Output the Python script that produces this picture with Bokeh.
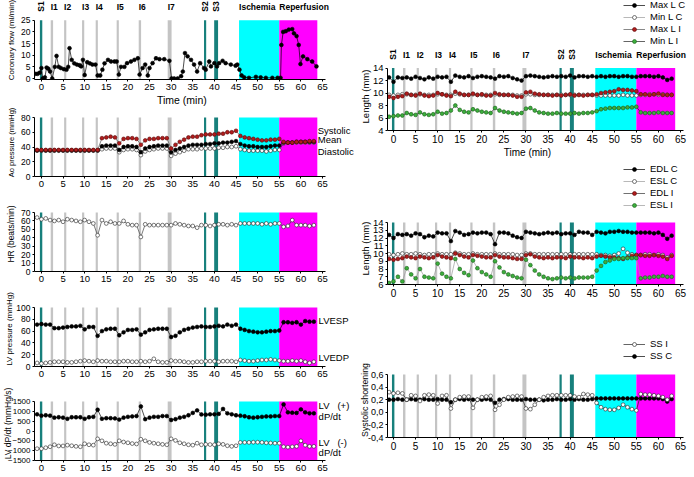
from math import pi
from bokeh.plotting import figure
from bokeh.layouts import row, column
from bokeh.models import (BoxAnnotation, Label, Legend, LegendItem, Range1d,
                          FixedTicker, CustomJSTickFormatter)
from bokeh.embed import file_html
from bokeh.resources import INLINE

FONT = "Liberation Sans"

# ---------------- protocol events (min) ----------------
stim_names = ["S1", "S2", "S3"]
stim_left = [-0.35, 37.6, 39.95]
stim_right = [0.2, 38.1, 40.85]
isch_names = ["I1", "I2", "I3", "I4", "I5", "I6", "I7"]
isch_left = [2.15, 5.25, 9.4, 12.55, 17.4, 22.5, 29.2]
isch_right = [2.7, 5.75, 9.9, 13.05, 17.9, 23.05, 30.1]
ischemia_period = [45.7, 55.0]
reperfusion_period = [55.0, 63.8]
x_ticks = [0, 5, 10, 15, 20, 25, 30, 35, 40, 45, 50, 55, 60, 65]

# ---------------- coronary flow ----------------
flow_t = [-1.4, -0.9, -0.4, 0.0, 0.3, 0.8, 1.2, 1.6, 2.0, 2.5,
          3.1, 3.5, 4.0, 4.5, 5.2, 5.8, 6.2, 6.5, 7.0, 7.6,
          8.2, 8.8, 9.2, 9.6, 10.0, 10.6, 11.2, 11.8, 12.5, 13.0,
          13.6, 14.1, 14.6, 15.4, 16.1, 16.9, 17.4, 17.9, 18.4, 19.2,
          19.8, 20.7, 21.5, 22.3, 22.7, 23.4, 24.0, 24.6, 25.0, 25.7,
          26.5, 27.3, 28.4, 29.6, 30.1, 30.7, 31.5, 32.3, 32.7, 33.2,
          33.8, 34.6, 35.3, 36.0, 36.7, 37.6, 38.0, 38.8, 39.2, 40.0,
          40.6, 41.1, 41.9, 42.6, 43.8, 44.9, 45.3, 45.8, 46.3, 46.9,
          48.0, 49.6, 50.7, 51.9, 53.4, 54.6, 55.3, 55.5, 55.9, 56.5,
          57.2, 58.0, 58.4, 59.0, 59.5, 59.9, 60.5, 61.5, 62.6, 63.6]
flow = [2.0, 2.0, 2.5, 4.5, 0.0, 0.5, 4.7, 4.2, 3.0, 0.0,
        5.0, 9.7, 5.0, 4.5, 4.0, 3.8, 5.0, 13.0, 8.0, 6.5,
        6.0, 5.7, 5.2, 8.0, 1.5, 7.0, 6.5, 6.0, 6.0, 1.3,
        1.3, 3.8, 6.5, 8.0, 7.3, 7.3, 7.3, 1.7, 5.0, 5.0,
        6.6, 7.3, 8.0, 8.7, 1.7, 4.5, 6.0, 1.3, 4.5, 6.6,
        8.7, 8.3, 8.3, 7.6, 0.0, 0.0, 0.0, 1.0, 3.0, 10.9,
        9.5, 8.0, 6.0, 3.0, 6.6, 4.5, 3.8, 7.3, 5.2, 6.6,
        5.2, 6.6, 7.6, 6.6, 6.0, 5.5, 6.0, 3.8, 1.3, 0.5,
        0.3, 0.7, 0.5, 0.3, 0.3, 0.3, 0.3, 14.4, 20.0, 20.3,
        21.0, 21.2, 19.4, 18.2, 14.4, 6.2, 9.5, 8.3, 7.3, 5.2]

# ---------------- one-minute series, t = -1 .. 63 ----------------
t = list(range(-1, 64))

ao_sys = [36, 36, 36, 36, 36, 36, 36, 36, 36, 36,
          36, 36, 36, 36, 36, 52, 53, 54, 53, 45,
          51, 52, 52, 51, 43, 49, 51, 51, 52, 52,
          52, 38, 43, 47, 50, 53, 54, 54, 56, 57,
          57, 57, 58, 58, 60, 60, 62, 55, 53, 52,
          51, 50, 49, 49, 50, 50, 51, 47, 46, 46,
          47, 47, 47, 48, 48]
ao_mean = [35.5, 35.5, 35.5, 35.5, 35.5, 35.5, 35.5, 35.5, 35.5, 35.5,
           35.5, 35.5, 35.5, 35.5, 35.5, 41, 42, 42, 42, 36,
           40, 41, 41, 40, 33, 38, 40, 41, 42, 42,
           42, 33, 36, 38, 40, 42, 43, 43, 43, 44,
           44, 45, 45, 46, 46, 47, 48, 44, 42, 41,
           41, 40, 40, 40, 41, 42, 42, 46, 46, 46,
           47, 47, 47, 47, 47]
ao_dia = [35, 35, 35, 35, 35, 35, 35, 35, 35, 35,
          35, 35, 35, 35, 35, 37, 38, 38, 38, 33,
          36, 37, 37, 36, 29, 34, 36, 37, 38, 38,
          38, 28, 31, 33, 35, 37, 37, 37, 38, 38,
          38, 38, 39, 39, 40, 40, 41, 37, 36, 35,
          35, 35, 35, 34, 35, 36, 36, 45, 46, 46,
          46, 46, 46, 46, 46]
hr = [64, 62, 63, 61, 60, 61, 59, 62, 61, 60,
      59, 61, 59, 57, 43, 61, 57, 59, 57, 57,
      60, 56, 55, 55, 41, 56, 55, 55, 55, 55,
      55, 55, 57, 56, 55, 54, 54, 52, 55, 55,
      54, 55, 56, 56, 55, 56, 55, 57, 57, 57,
      57, 57, 56, 57, 56, 57, 57, 53, 54, 61,
      55, 55, 55, 54, 55]
lvesp = [71, 72, 71, 71, 65, 65, 66, 67, 68, 68,
         69, 63, 67, 67, 52, 60, 63, 64, 64, 53,
         58, 62, 62, 63, 54, 58, 62, 63, 64, 64,
         64, 50, 52, 58, 62, 64, 66, 67, 68, 67,
         67, 68, 69, 68, 71, 69, 71, 64, 62, 60,
         59, 58, 58, 59, 60, 60, 61, 75, 75, 74,
         75, 71, 77, 76, 76]
lvedp = [6, 5, 6, 7, 8, 8, 8, 7, 7, 8,
         9, 10, 9, 8, 10, 9, 9, 8, 8, 8,
         9, 9, 8, 8, 9, 8, 9, 13, 8, 7,
         7, 10, 9, 9, 8, 7, 7, 8, 8, 9,
         9, 9, 8, 9, 9, 9, 8, 11, 10, 9,
         9, 10, 11, 11, 12, 11, 10, 9, 9, 10,
         9, 10, 8, 6, 8]
dp_pos = [850, 780, 800, 780, 680, 700, 680, 620, 700, 700,
          700, 620, 700, 720, 1080, 620, 650, 650, 640, 580,
          680, 720, 740, 760, 1250, 600, 680, 720, 720, 760,
          760, 560, 600, 680, 720, 800, 920, 1050, 840, 830,
          850, 850, 870, 1120, 900, 850, 800, 780, 750, 700,
          680, 700, 720, 740, 740, 760, 760, 1350, 950, 930,
          920, 1100, 950, 900, 900]
dp_neg = [-900, -900, -850, -800, -700, -760, -760, -720, -750, -780,
          -800, -650, -700, -720, -400, -500, -620, -650, -680, -500,
          -560, -600, -640, -660, -420, -500, -580, -620, -650, -680,
          -700, -400, -480, -600, -650, -700, -720, -620, -700, -680,
          -690, -700, -650, -680, -750, -780, -750, -580, -580, -580,
          -570, -570, -580, -600, -610, -620, -620, -800, -820, -800,
          -780, -500, -720, -780, -780]

max_l_c = [12.5, 11.8, 12.5, 12.4, 12.5, 12.3, 12.6, 12.4, 12.2, 12.5,
           12.3, 12.6, 12.5, 12.6, 11.8, 12.8, 12.6, 12.5, 12.7, 12.4,
           12.6, 12.7, 12.6, 12.5, 12.3, 12.7, 12.6, 12.7, 12.4, 12.2,
           12.0, 12.7, 12.8, 12.7, 12.6, 12.5, 12.6, 12.7, 12.6, 12.7,
           12.6, 12.8, 12.5, 12.7, 12.7, 12.6, 12.7, 12.6, 12.7, 12.6,
           12.7, 12.7, 12.6, 12.7, 12.7, 12.6, 12.6, 12.7, 12.7, 12.7,
           12.6, 12.7, 12.5, 12.1, 12.3]
min_l_c = [9.7, 9.6, 9.7, 9.8, 9.8, 9.7, 9.7, 9.8, 9.7, 9.7,
           9.7, 9.8, 9.8, 9.7, 9.7, 9.9, 9.8, 9.7, 9.7, 9.8,
           9.7, 9.7, 9.7, 9.7, 9.8, 9.7, 9.7, 9.7, 9.7, 9.6,
           9.6, 9.8, 9.8, 9.7, 9.7, 9.7, 9.7, 9.7, 9.7, 9.7,
           9.7, 9.7, 9.7, 9.7, 9.7, 9.7, 9.7, 9.6, 9.6, 9.6,
           9.6, 9.6, 9.6, 9.7, 9.6, 9.6, 9.6, 9.7, 9.7, 9.8,
           9.8, 9.7, 9.8, 9.7, 9.7]
max_l_i = [9.4, 9.2, 9.4, 9.5, 9.9, 9.7, 9.6, 9.9, 9.6, 9.5,
           9.6, 10.0, 9.8, 9.6, 9.5, 10.2, 9.9, 9.7, 9.7, 9.9,
           9.7, 9.8, 9.6, 9.6, 10.0, 9.8, 9.7, 9.7, 9.6, 9.4,
           9.4, 10.1, 10.2, 9.9, 9.8, 9.7, 9.7, 9.6, 9.7, 9.6,
           9.7, 9.8, 9.6, 9.7, 9.6, 9.7, 9.7, 9.8, 10.0, 10.1,
           10.2, 10.3, 10.6, 10.5, 10.5, 10.4, 10.3, 9.8, 9.8, 9.7,
           9.8, 9.9, 9.7, 9.7, 9.7]
min_l_i = [6.2, 6.3, 6.4, 6.4, 6.8, 6.6, 6.5, 6.9, 6.6, 6.5,
           6.6, 7.0, 6.7, 6.8, 7.2, 8.0, 7.3, 7.0, 6.9, 7.4,
           7.2, 7.0, 6.9, 6.8, 7.6, 7.2, 7.0, 6.9, 6.8, 6.7,
           6.8, 7.5, 7.6, 7.2, 6.9, 6.8, 6.7, 6.7, 6.8, 6.7,
           6.7, 6.7, 6.8, 6.7, 6.8, 6.8, 6.9, 7.1, 7.4, 7.5,
           7.6, 7.6, 7.6, 7.6, 7.7, 7.7, 7.8, 6.9, 6.8, 6.8,
           6.8, 6.9, 6.8, 6.8, 6.8]

edl_c = [12.4, 12.0, 12.5, 12.4, 12.5, 12.3, 12.6, 12.5, 12.1, 12.3,
         12.2, 12.7, 12.6, 12.6, 11.6, 12.9, 12.7, 12.4, 12.5, 12.7,
         12.6, 12.7, 12.7, 12.5, 11.2, 12.7, 12.7, 12.6, 12.3, 12.1,
         12.0, 12.8, 12.7, 12.6, 12.5, 12.6, 12.7, 12.6, 12.7, 12.5,
         12.6, 12.6, 12.4, 12.8, 12.7, 12.7, 12.4, 12.8, 12.7, 12.6,
         12.8, 12.8, 12.9, 12.8, 12.8, 12.7, 12.7, 12.7, 12.7, 12.7,
         12.6, 12.7, 12.4, 11.9, 12.3]
esl_c = [9.9, 9.8, 9.9, 10.0, 9.9, 9.9, 10.0, 9.9, 9.8, 9.9,
         9.9, 10.0, 9.9, 9.9, 9.9, 10.1, 10.0, 9.9, 9.9, 10.0,
         9.9, 9.9, 9.9, 9.9, 10.0, 9.9, 9.9, 9.9, 9.9, 9.8,
         9.8, 10.0, 10.0, 9.9, 9.9, 9.9, 9.9, 9.9, 9.9, 9.9,
         9.9, 9.9, 9.9, 9.9, 9.9, 9.9, 9.9, 9.9, 9.8, 9.8,
         9.7, 9.8, 10.0, 10.6, 10.1, 9.9, 9.8, 9.8, 9.9, 9.9,
         9.8, 9.9, 9.8, 9.5, 9.8]
edl_i = [9.3, 9.2, 9.3, 9.4, 9.6, 9.5, 9.4, 9.6, 9.5, 9.4,
         9.5, 9.8, 9.6, 9.5, 9.4, 10.0, 9.8, 9.6, 9.5, 9.8,
         9.7, 9.6, 9.5, 9.5, 9.8, 9.6, 9.5, 9.5, 9.4, 9.3,
         9.3, 9.8, 9.9, 9.6, 9.5, 9.4, 9.5, 9.4, 9.5, 9.5,
         9.4, 9.6, 9.5, 9.5, 9.4, 9.5, 9.4, 9.6, 9.7, 9.6,
         9.5, 9.5, 9.4, 9.3, 9.5, 9.7, 9.8, 9.8, 9.7, 9.7,
         9.8, 9.7, 9.6, 9.3, 9.7]
esl_i = [6.2, 6.4, 7.0, 6.4, 8.1, 7.3, 6.8, 8.0, 7.0, 6.9,
         6.8, 8.7, 7.4, 7.0, 6.8, 9.3, 8.0, 7.5, 7.2, 9.1,
         8.1, 7.6, 7.3, 7.0, 9.0, 8.2, 7.6, 7.3, 7.1, 6.9,
         6.8, 9.2, 8.5, 7.8, 7.3, 7.0, 6.8, 6.7, 6.8, 6.9,
         6.8, 6.9, 6.8, 6.9, 6.9, 6.9, 7.0, 7.8, 8.4, 8.9,
         9.1, 9.3, 9.3, 9.4, 9.4, 9.4, 9.4, 6.8, 6.9, 6.9,
         7.0, 7.0, 7.1, 7.0, 7.0]

ss_c = [0.20, 0.20, 0.21, 0.20, 0.20, 0.21, 0.20, 0.20, 0.21, 0.20,
        0.20, 0.21, 0.20, 0.20, 0.16, 0.20, 0.21, 0.20, 0.21, 0.20,
        0.20, 0.20, 0.21, 0.20, 0.15, 0.20, 0.21, 0.21, 0.20, 0.20,
        0.20, 0.21, 0.20, 0.20, 0.20, 0.19, 0.20, 0.20, 0.21, 0.20,
        0.20, 0.21, 0.20, 0.21, 0.20, 0.20, 0.21, 0.22, 0.22, 0.22,
        0.22, 0.22, 0.22, 0.22, 0.22, 0.22, 0.22, 0.22, 0.22, 0.22,
        0.22, 0.22, 0.21, 0.17, 0.21]
ss_i = [0.32, 0.30, 0.31, 0.30, 0.20, 0.27, 0.26, 0.18, 0.27, 0.28,
        0.27, 0.14, 0.26, 0.27, 0.06, 0.20, 0.24, 0.25, 0.25, 0.07,
        0.20, 0.24, 0.25, 0.26, 0.04, 0.12, 0.20, 0.24, 0.25, 0.26,
        0.25, 0.06, 0.05, 0.12, 0.20, 0.24, 0.26, 0.27, 0.27, 0.27,
        0.27, 0.27, 0.25, 0.24, 0.29, 0.28, 0.27, 0.15, 0.08, 0.05,
        0.04, 0.04, 0.07, 0.12, 0.08, 0.05, 0.03, 0.29, 0.28, 0.28,
        0.27, 0.26, 0.24, 0.20, 0.26]

# ---------------- styles ----------------
TEAL = "#17807c"
GRAY_BAR = "#c4c4c4"
CYAN = "#00ffff"
MAGENTA = "#ff00ff"
STYLES = {
    "black": dict(fill="black", edge="black", line="black"),
    "white": dict(fill="white", edge="#222222", line="#444444"),
    "red": dict(fill="#b01c1c", edge="#5c0a0a", line="#555555"),
    "green": dict(fill="#3cae3c", edge="#1d5f1d", line="#333333"),
}
MSIZE = 3.8
NB = "\u00a0"


def series(p, x, y, style, line_color=None, size=MSIZE):
    s = STYLES[style]
    lr = p.line(x, y, line_color=line_color or s["line"], line_width=0.7)
    sr = p.scatter(x, y, marker="circle", size=size, fill_color=s["fill"],
                   line_color=s["edge"], line_width=0.6)
    return [lr, sr]


def y_extent(fig_top, px_hi, v_hi, px_lo, v_lo, px_axis):
    """y range whose frame starts at the figure top and ends at the x axis."""
    s = (px_lo - px_hi) / (v_hi - v_lo)
    return (v_lo - (px_axis - px_lo) / s, v_hi + (px_hi - fig_top) / s)


def make_fig(w, h, fig_top, axis_px, bl, xr, xbounds, ydata, yticks, ylabel,
             ytick_size="8.5px", xtick_size="9.5px", ylabel_size="8.5px",
             ylabel_standoff=2, xlabel=None, xlabel_size="10.5px"):
    px_hi, v_hi, px_lo, v_lo = ydata
    yr = y_extent(fig_top, px_hi, v_hi, px_lo, v_lo, axis_px)
    p = figure(width=w, height=h, x_range=xr, y_range=Range1d(*yr),
               output_backend="svg", toolbar_location=None,
               min_border_left=bl, min_border_right=0,
               min_border_top=0, min_border_bottom=fig_top + h - axis_px)
    p.title.visible = False
    p.outline_line_color = None
    p.xgrid.visible = False
    p.ygrid.visible = False
    p.background_fill_color = "white"
    p.xaxis.ticker = FixedTicker(ticks=x_ticks)
    p.yaxis.ticker = FixedTicker(ticks=yticks)
    p.xaxis.bounds = xbounds
    p.yaxis.bounds = (yr[0], v_hi)
    for ax in (p.xaxis[0], p.yaxis[0]):
        ax.axis_line_color = "black"
        ax.axis_line_width = 1
        ax.major_tick_line_color = "black"
        ax.major_tick_out = 2
        ax.major_tick_in = 0
        ax.minor_tick_line_color = None
        ax.major_label_text_font = FONT
        ax.major_label_text_color = "black"
        ax.major_label_standoff = 2
        ax.axis_label_text_font = FONT
        ax.axis_label_text_font_style = "normal"
        ax.axis_label_text_color = "black"
    p.xaxis.major_label_text_font_size = xtick_size
    p.yaxis.major_label_text_font_size = ytick_size
    p.yaxis.axis_label = ylabel
    p.yaxis.axis_label_text_font_size = ylabel_size
    p.yaxis.axis_label_standoff = ylabel_standoff
    if xlabel:
        p.xaxis.axis_label = xlabel
        p.xaxis.axis_label_text_font_size = xlabel_size
        p.xaxis.axis_label_standoff = 1

    lo, hi = yr[0], v_hi
    # protocol shading, limited to the data area
    p.add_layout(BoxAnnotation(left=ischemia_period[0], right=ischemia_period[1], bottom=lo, top=hi,
                               fill_color=CYAN, fill_alpha=1, line_color=None, level="underlay"))
    p.add_layout(BoxAnnotation(left=reperfusion_period[0], right=reperfusion_period[1], bottom=lo, top=hi,
                               fill_color=MAGENTA, fill_alpha=1, line_color=None, level="underlay"))
    for l, r in zip(isch_left, isch_right):
        p.add_layout(BoxAnnotation(left=l, right=r, bottom=lo, top=hi, fill_color=GRAY_BAR,
                                   fill_alpha=1, line_color=None, level="underlay"))
    for l, r in zip(stim_left, stim_right):
        p.add_layout(BoxAnnotation(left=l, right=r, bottom=lo, top=hi, fill_color=TEAL,
                                   fill_alpha=1, line_color=None, level="underlay"))
    return p


def header_fig(w, h, bl, xr):
    # y range lies below every series, so series drawn here only feed the legend
    p = figure(width=w, height=h, x_range=xr, y_range=Range1d(-20, -19),
               output_backend="svg", toolbar_location=None,
               x_axis_location=None, y_axis_location=None,
               min_border_left=bl, min_border_right=0,
               min_border_top=0, min_border_bottom=0)
    p.title.visible = False
    p.outline_line_color = None
    p.grid.visible = False
    p.background_fill_color = "white"
    return p


def event_labels(p, ys):
    kw = dict(y=ys, y_units="screen", text_font=FONT, text_font_size="8.5px",
              text_font_style="bold", text_color="black", text_baseline="middle")
    for name, l, r in zip(stim_names, stim_left, stim_right):
        p.add_layout(Label(x=(l + r) / 2, text=name, angle=pi / 2, text_align="center", **kw))
    for name, l in zip(isch_names, isch_left):
        p.add_layout(Label(x=l, text=name, text_align="left", **kw))
    p.add_layout(Label(x=ischemia_period[0], text="Ischemia", text_align="left", **kw))
    p.add_layout(Label(x=reperfusion_period[0], text="Reperfusion", text_align="left", **kw))


def side_label(p, x, y, text):
    p.add_layout(Label(x=x, y=y, text=text, text_font=FONT, text_font_size="9.5px",
                       text_color="black", text_baseline="middle", text_align="left"))


def legend(p, entries, x, y):
    """Legend in a header figure; its glyphs are the series themselves, which
    fall outside this header's y range and so only show in the legend."""
    items = []
    for lab, ys, style, lc in entries:
        items.append(LegendItem(label=lab, renderers=series(p, t, ys, style, line_color=lc)))
    lg = Legend(items=items, location=(x, y), orientation="vertical",
                background_fill_alpha=0, border_line_color=None,
                label_text_font=FONT, label_text_font_size="9.5px", label_text_color="black",
                glyph_width=22, glyph_height=10, label_height=10,
                spacing=1, padding=0, margin=0, label_standoff=5)
    p.add_layout(lg)


# left column geometry: frame starts at x=33, 0 min at x=40, 4.338 px/min
LW = 355
LXR = Range1d(-1.6, 72.63)
LXB = (-1.6, 65.7)
# right column geometry: frame starts at x=387 (page), 0 min at 393, 4.415 px/min
RW = 337
RBL = 32
RXR = Range1d(-1.36, 67.72)
RXB = (-1.36, 65.7)

# ---- left column ----
f1 = make_fig(LW, 108, 0, 80, 33, LXR, LXB, (20, 25, 79, 0), [0, 5, 10, 15, 20, 25],
              "Coronary flow (ml/min)", ylabel_size="8px", ylabel_standoff=2,
              xlabel="Time (min)" + NB * 9)
series(f1, flow_t, flow, "black")
event_labels(f1, 73)

f2 = make_fig(LW, 88, 108, 176, 33, LXR, LXB, (117, 80, 176, 0), [0, 20, 40, 60, 80],
              "Ao pressure (mmHg)", ylabel_size="7.5px", ylabel_standoff=2)
series(f2, t, ao_dia, "white")
series(f2, t, ao_mean, "black")
series(f2, t, ao_sys, "red")
side_label(f2, 63.9, 63, "Systolic")
side_label(f2, 63.9, 50, "Mean")
side_label(f2, 63.9, 34, "Diastolic")

f3 = make_fig(LW, 95, 196, 271, 33, LXR, LXB, (212, 70, 271, 0),
              [0, 10, 20, 30, 40, 50, 60, 70], "HR (beats/min)", ylabel_standoff=2)
series(f3, t, hr, "white")

f4 = make_fig(LW, 95, 291, 366, 33, LXR, LXB, (307, 100, 366, 0), [0, 20, 40, 60, 80, 100],
              "LV pressure (mmHg)", ylabel_size="8px", ylabel_standoff=-1)
series(f4, t, lvedp, "white")
series(f4, t, lvesp, "black")
side_label(f4, 64.1, 78, "LVESP")
side_label(f4, 64.1, 15, "LVEDP")

f5 = make_fig(LW, 90, 386, 460, 33, LXR, LXB, (401, 1500, 460, -1500),
              [-1500, -1000, -500, 0, 500, 1000, 1500],
              "LV dP/dt (mmHg/s)", ytick_size="8px", ylabel_standoff=-8)
series(f5, t, dp_pos, "black")
series(f5, t, dp_neg, "white")
side_label(f5, 64.1, 1300, "LV" + NB * 3 + "(+)")
side_label(f5, 64.1, 740, "dP/dt")
side_label(f5, 64.1, -570, "LV" + NB * 3 + "(-)")
side_label(f5, 64.1, -1090, "dP/dt")

# ---- right column ----
h1 = header_fig(RW, 62, RBL, RXR)
legend(h1, [("Max L C", max_l_c, "black", None), ("Min L C", min_l_c, "white", "#999999"),
            ("Max L I", max_l_i, "red", None), ("Min L I", min_l_i, "green", "#222222")], 236, 16)
event_labels(h1, 8)

r1 = make_fig(RW, 98, 62, 132, RBL, RXR, RXB, (67.7, 14, 132, 4), [4, 6, 8, 10, 12, 14],
              "Length (mm)", ytick_size="9.5px", xtick_size="10px", ylabel_size="9.5px",
              ylabel_standoff=-1, xlabel="Time (min)" + NB * 9, xlabel_size="10px")
series(r1, t, max_l_c, "black")
series(r1, t, min_l_c, "white", line_color="#999999")
series(r1, t, max_l_i, "red")
series(r1, t, min_l_i, "green", line_color="#222222")

h2 = header_fig(RW, 52, RBL, RXR)
legend(h2, [("EDL C", edl_c, "black", None), ("ESL C", esl_c, "white", "#999999"),
            ("EDL I", edl_i, "red", "#333333"), ("ESL I", esl_i, "green", "#999999")], 236, 2)

r2 = make_fig(RW, 94, 212, 284, RBL, RXR, RXB, (222, 14, 284, 6), [6, 7, 8, 9, 10, 11, 12, 13, 14],
              "Length (mm)", ytick_size="9.5px", xtick_size="10px", ylabel_size="9.5px",
              ylabel_standoff=-1)
series(r2, t, edl_c, "black")
series(r2, t, esl_c, "white", line_color="#999999")
series(r2, t, edl_i, "red", line_color="#333333")
series(r2, t, esl_i, "green", line_color="#999999")

h3 = header_fig(RW, 56, RBL, RXR)
legend(h3, [("SS I", ss_i, "white", "#222222"), ("SS C", ss_c, "black", None)], 236, 1)

r3 = make_fig(RW, 114, 362, 437, RBL, RXR, RXB, (374, 0.6, 437, -0.4),
              [-0.4, -0.2, 0.0, 0.2, 0.4, 0.6], "Systolic shortening",
              ytick_size="9px", xtick_size="10px", ylabel_size="8.8px", ylabel_standoff=-5)
r3.yaxis.formatter = CustomJSTickFormatter(code="return tick.toFixed(1).replace('.', ',');")
series(r3, t, ss_c, "black")
series(r3, t, ss_i, "white", line_color="#222222")

layout = row(column(f1, f2, f3, f4, f5), column(h1, r1, h2, r2, h3, r3))
open("out.html", "w").write(file_html(layout, INLINE))
